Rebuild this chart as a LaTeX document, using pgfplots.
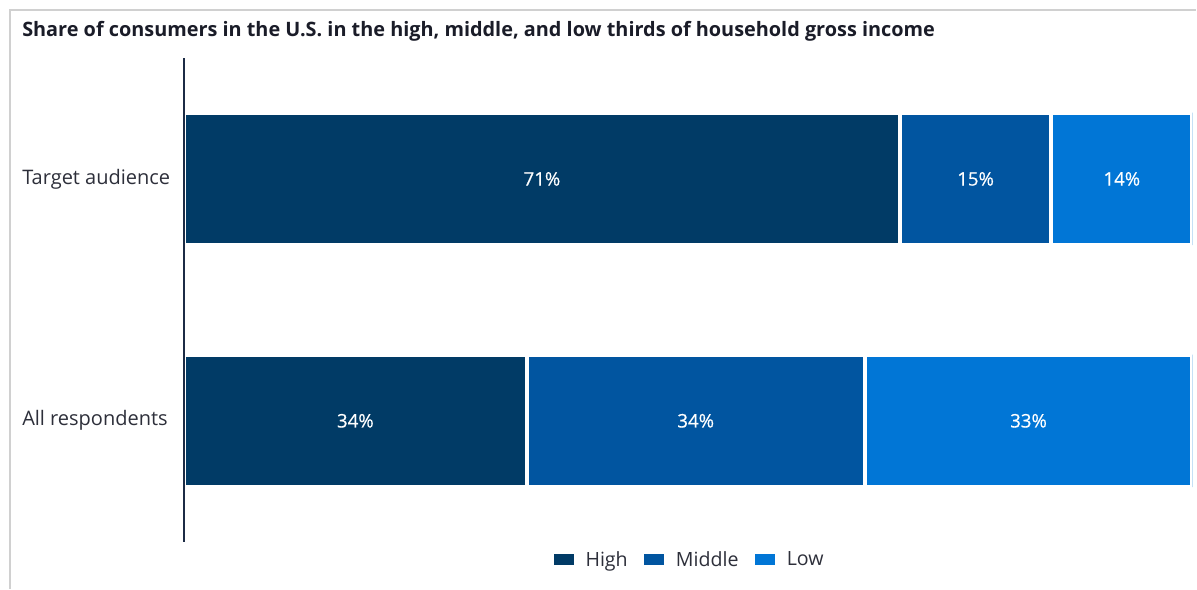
\documentclass[border=0pt]{standalone}
\usepackage{pgfplots}
\pgfplotsset{compat=1.18}
\usepackage{pgfplotstable}
\usepackage{fontspec}
\setmainfont{Open Sans}
\newfontfamily\semib[FakeBold=0.5]{Open Sans}
\definecolor{cHigh}{HTML}{013B66}
\definecolor{cMid}{HTML}{0155A0}
\definecolor{cLow}{HTML}{0176D6}
\definecolor{cAxis}{HTML}{1C2B45}
\definecolor{cText}{HTML}{2D2F3A}
\definecolor{cTitle}{HTML}{1A1C28}
\definecolor{cFrame}{HTML}{D0D0D0}
% y: 1 = Target audience, 0 = All respondents
\pgfplotstableread{
y val
1 71
0 34
}\tHigh
\pgfplotstableread{
y val
1 15
0 33.5
}\tMid
\pgfplotstableread{
y val
1 14
0 32.5
}\tLow
\pgfplotstableread{
y start val lab
1 0 71 71\%
1 71 15 15\%
1 86 14 14\%
0 0 34 34\%
0 34 33.5 34\%
0 67.5 32.5 33\%
}\tLabels
\pgfplotsset{
  common/.style={
    at={(138pt,35.25pt)}, anchor=south west,
    width=756.75pt, height=363pt, scale only axis,
    xmin=0, xmax=100, ymin=-0.5, ymax=1.5,
  }
}
\begin{document}
\begin{tikzpicture}
\path (0,0) rectangle (897.75pt,441.75pt);
\draw[cFrame, line width=0.9pt] (7.5pt,0) -- (7.5pt,434.25pt) -- (897.75pt,434.25pt);
\node[anchor=west, inner sep=0pt, text=cTitle, font=\bfseries\fontsize{14.9}{18}\selectfont] at (16.5pt,418.5pt) {Share of consumers in the U.S. in the high, middle, and low thirds of household gross income};
\begin{axis}[
  common,
  xbar stacked, bar width=0.548,
  hide x axis,
  axis y line*=left,
  y axis line style={cAxis, line width=1.5pt},
  axis on top,
  ytick={0,1}, yticklabels={All respondents, Target audience},
  ytick style={draw=none},
  yticklabel style={anchor=west, inner sep=0pt, xshift=-121.5pt, text=cText, font=\fontsize{15}{18}\selectfont},
  legend columns=3,
  legend style={at={(0.5,-0.037)}, anchor=center, draw=none, fill=none, text=cText, font=\fontsize{14.7}{17}\selectfont,
    /tikz/every odd column/.append style={column sep=3.7pt},
    /tikz/every even column/.append style={column sep=7.5pt}},
  legend image code/.code={\fill[#1] (0pt,-5.6pt) rectangle (18pt,5.6pt);},
]
\addplot[fill=cHigh, draw=white, line width=3pt] table[x=val, y=y] {\tHigh};
\addplot[fill=cMid, draw=white, line width=3pt] table[x=val, y=y] {\tMid};
\addplot[fill=cLow, draw=white, line width=3pt] table[x=val, y=y] {\tLow};
\legend{High, Middle, Low}
\end{axis}
\begin{axis}[
  common,
  hide axis,
  point meta=explicit symbolic,
  nodes near coords,
  every node near coord/.append style={anchor=center, text=white, font=\semib\fontsize{14}{17}\selectfont},
]
\addplot[draw=none, mark=none, only marks] table[x expr=\thisrow{start}+\thisrow{val}/2, y=y, meta=lab] {\tLabels};
\end{axis}
\end{tikzpicture}
\end{document}
